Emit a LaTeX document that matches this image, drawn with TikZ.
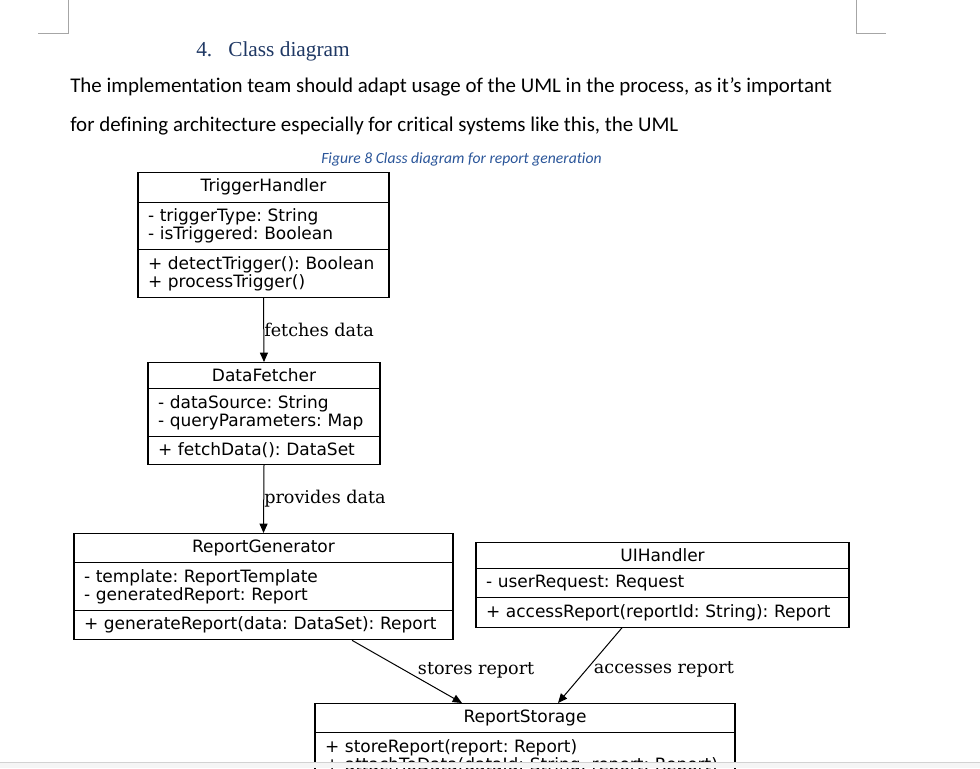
\documentclass[tikz,border=0pt]{standalone}
\usepackage{fontspec}
\setmainfont{Carlito}[Ligatures=NoCommon]
\newfontfamily\umlfont{DejaVu Sans}
\newfontfamily\labelfont{DejaVu Serif}
\newfontfamily\headfont{Liberation Serif}
\usetikzlibrary{shapes.multipart,arrows.meta}
\definecolor{headblue}{HTML}{1F3864}
\definecolor{capblue}{HTML}{2A5599}
\definecolor{markgray}{HTML}{A6A6A6}
% centred first row of a class box
\newcommand\classname[2]{\makebox[#1][c]{#2}}

\begin{document}
\begin{tikzpicture}[x=0.75pt, y=-0.75pt, ->, >={Triangle[length=7pt,width=6pt]},
                    classbox/.style={rectangle split, rectangle split parts=3, draw=black, line width=0.8pt, inner xsep=7.5pt, inner ysep=4.5pt, anchor=north, align=left, font=\umlfont\fontsize{12.75}{13.5}\selectfont\frenchspacing},
                    edgelabel/.style={font=\labelfont\fontsize{13.2}{15}\selectfont, anchor=west, inner sep=0pt},
                    bodytext/.style={anchor=base west, inner sep=0pt, font=\fontsize{15.7}{18}\selectfont}]
        \useasboundingbox (0,0) rectangle (980,768);
        \clip (0,0) rectangle (980,768);
        % page corner marks
        \draw[-, markgray, line width=0.75pt] (68,0) -- (68,33) -- (38,33);
        \draw[-, markgray, line width=0.75pt] (856,0) -- (856,33) -- (886,33);
        % heading, text and caption
        \node (headnum) [anchor=base west, inner sep=0pt, text=headblue, font=\headfont\fontsize{16}{18}\selectfont] at (196,56) {4.};
        \node (headtitle) [anchor=base west, inner sep=0pt, text=headblue, font=\headfont\fontsize{16}{18}\selectfont] at (228,56) {Class diagram};
        \node (lineone) [bodytext] at (70,92) {The implementation team should adapt usage of the UML in the process, as it’s important};
        \node (linetwo) [bodytext] at (70,131) {for defining architecture especially for critical systems like this, the UML};
        \node (caption) [anchor=base west, inner sep=0pt, text=capblue, font=\itshape\fontsize{11.7}{13}\selectfont] at (321,163) {Figure 8 Class diagram for report generation};

        % classes
        \node (TriggerHandler) [classbox, text width=173.25pt] at (263.5,172)
            {\classname{173.25pt}{TriggerHandler}
             \nodepart{two} - triggerType: String\\- isTriggered: Boolean
             \nodepart{three} + detectTrigger(): Boolean\\+ processTrigger()};
        \node (DataFetcher) [classbox, text width=159pt] at (264,362)
            {\classname{159pt}{DataFetcher}
             \nodepart{two} - dataSource: String\\- queryParameters: Map
             \nodepart{three} + fetchData(): DataSet};
        \node (ReportGenerator) [classbox, text width=269.25pt] at (263.5,533)
            {\classname{269.25pt}{ReportGenerator}
             \nodepart{two} - template: ReportTemplate\\- generatedReport: Report
             \nodepart{three} \mbox{+ generateReport(data: DataSet): Report}};
        \node (UIHandler) [classbox, text width=264.75pt] at (662.5,542)
            {\classname{264.75pt}{UIHandler}
             \nodepart{two} - userRequest: Request
             \nodepart{three} \mbox{+ accessReport(reportId: String): Report}};
        \node (ReportStorage) [classbox, rectangle split parts=2, text width=300pt] at (525,703)
            {\classname{300pt}{ReportStorage}
             \nodepart{two} + storeReport(report: Report)\\\mbox{+ attachToData(dataId: String, report: Report)}};

        \path[line width=0.75pt]
        (TriggerHandler.south)
            edge node [edgelabel] {fetches data} (DataFetcher.north)
        (DataFetcher.south)
            edge node [edgelabel] {provides data} (ReportGenerator.north)
        ([xshift=66.4pt]ReportGenerator.south)
            edge node [edgelabel, pos=0.48, xshift=9.5pt] {stores report} ([xshift=-47.25pt]ReportStorage.north)
        ([xshift=-30.4pt]UIHandler.south)
            edge node [edgelabel, pos=0.55, xshift=5pt] {accesses report} ([xshift=24.75pt]ReportStorage.north)
        ;

        % window edge at the bottom
        \fill[gray!8] (0,762) rectangle (980,768);
        \draw[-, gray!35, line width=0.75pt] (0,762) -- (980,762);
\end{tikzpicture}
\end{document}
